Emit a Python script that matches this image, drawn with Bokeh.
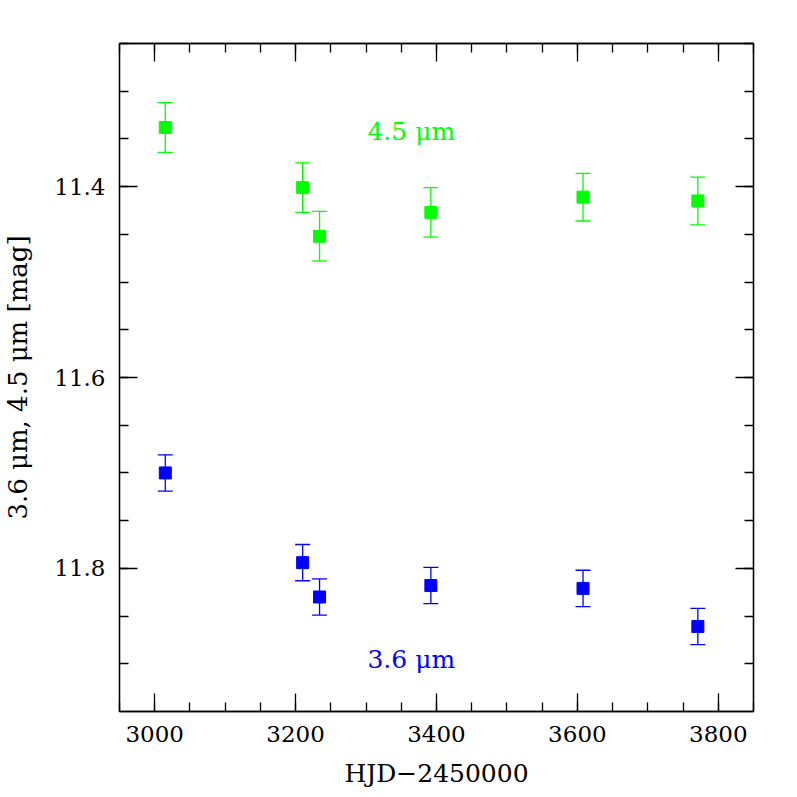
from bokeh.plotting import figure
from bokeh.models import (Range1d, LinearAxis, SingleIntervalTicker, Whisker,
                          ColumnDataSource, Label, CustomJSTickFormatter, TeeHead)
from bokeh.embed import file_html
from bokeh.resources import INLINE

# ---- data ----
hjd = [3015, 3210, 3234, 3392, 3608, 3771]
mag_45 = [11.338, 11.401, 11.452, 11.427, 11.411, 11.415]
err_45 = [0.026, 0.026, 0.026, 0.026, 0.025, 0.025]
mag_36 = [11.700, 11.794, 11.830, 11.818, 11.821, 11.861]
err_36 = [0.019, 0.019, 0.019, 0.019, 0.019, 0.019]

label_45 = "4.5 μm"
label_36 = "3.6 μm"
label_x = 3302
label_45_y = 11.342
label_36_y = 11.895

GREEN = "#00ff00"
BLUE = "#0000ff"
FONT = "DejaVu Serif"

p = figure(width=790, height=790, output_backend="svg", toolbar_location=None,
           x_range=Range1d(2950, 3850), y_range=Range1d(11.95, 11.25),
           min_border_left=119, min_border_right=37, min_border_top=43,
           min_border_bottom=79, background_fill_color="white",
           border_fill_color="white", x_axis_location=None, y_axis_location=None)
p.xgrid.visible = False
p.ygrid.visible = False
p.outline_line_color = "black"
p.outline_line_width = 1.3

blank = CustomJSTickFormatter(code="return ''")
xbottom = LinearAxis(ticker=SingleIntervalTicker(interval=200, num_minor_ticks=4))
yleft = LinearAxis(ticker=SingleIntervalTicker(interval=0.2, num_minor_ticks=4))
xtop = LinearAxis(ticker=SingleIntervalTicker(interval=200, num_minor_ticks=4),
                  formatter=blank)
yright = LinearAxis(ticker=SingleIntervalTicker(interval=0.2, num_minor_ticks=4),
                    formatter=blank)

for ax in (xbottom, yleft, xtop, yright):
    ax.major_tick_in = 18
    ax.major_tick_out = 0
    ax.minor_tick_in = 9
    ax.minor_tick_out = 0
    ax.axis_line_color = "black"
    ax.axis_line_width = 1.3
    ax.major_tick_line_width = 1.3
    ax.minor_tick_line_width = 1.3
    ax.major_tick_line_color = "black"
    ax.minor_tick_line_color = "black"
    ax.major_label_text_font = FONT
    ax.major_label_text_font_size = "23px"
    ax.major_label_text_color = "black"
    ax.axis_label_text_font = FONT
    ax.axis_label_text_font_style = "normal"
    ax.axis_label_text_font_size = "25px"
    ax.axis_label_text_color = "black"

xbottom.major_label_standoff = 14
yleft.major_label_standoff = 14
xbottom.axis_label = "HJD−2450000"
xbottom.axis_label_standoff = 14
yleft.axis_label = "3.6 μm, 4.5 μm [mag]"
yleft.axis_label_standoff = 18
yleft.axis_label_text_font_size = "26px"

p.add_layout(xbottom, "below")
p.add_layout(yleft, "left")
p.add_layout(xtop, "above")
p.add_layout(yright, "right")

src45 = ColumnDataSource(dict(x=hjd, y=mag_45,
                              lo=[m - e for m, e in zip(mag_45, err_45)],
                              hi=[m + e for m, e in zip(mag_45, err_45)]))
src36 = ColumnDataSource(dict(x=hjd, y=mag_36,
                              lo=[m - e for m, e in zip(mag_36, err_36)],
                              hi=[m + e for m, e in zip(mag_36, err_36)]))

for src, col in ((src45, GREEN), (src36, BLUE)):
    w = Whisker(source=src, base="x", lower="lo", upper="hi", dimension="height",
                line_color=col, line_width=1.3,
                upper_head=TeeHead(size=15, line_color=col, line_width=1.3),
                lower_head=TeeHead(size=15, line_color=col, line_width=1.3))
    p.add_layout(w)
    p.scatter("x", "y", source=src, marker="square", size=12,
              fill_color=col, line_color=col)

p.add_layout(Label(x=label_x, y=label_45_y, text=label_45, text_color=GREEN,
                   text_font=FONT, text_font_size="25px", text_baseline="middle",
                   text_align="left"))
p.add_layout(Label(x=label_x, y=label_36_y, text=label_36, text_color=BLUE,
                   text_font=FONT, text_font_size="25px", text_baseline="middle",
                   text_align="left"))

open("out.html", "w").write(file_html(p, INLINE))
